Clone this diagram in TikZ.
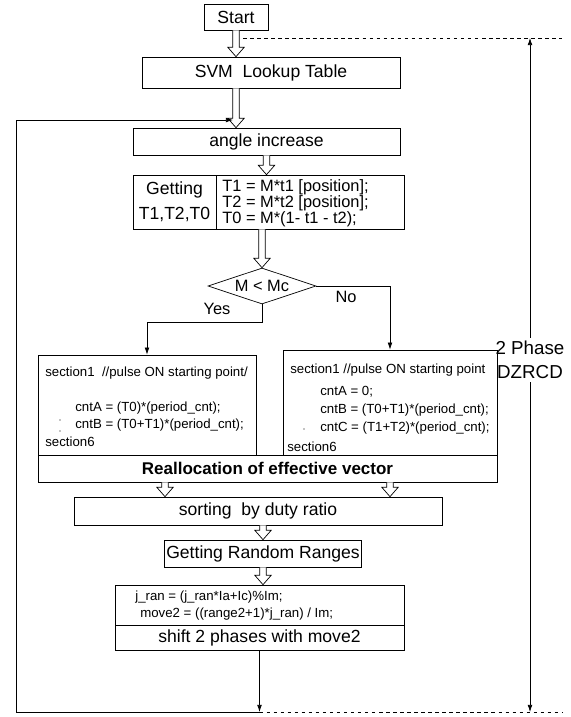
\documentclass[tikz,border=0pt]{standalone}
\usepackage{fontspec}
\setmainfont{Liberation Sans}
\usetikzlibrary{calc,shapes.geometric,arrows.meta}

\newcommand{\pxu}{0.03cm}
% hollow block arrow, x taken from the first point
\newcommand{\harrow}[2]{%
  \draw[fill=white] let \p1=(#1), \p2=(#2) in
    (\x1-2.8pt,\y1) -- (\x1-2.8pt,\y2+8pt) -- (\x1-7pt,\y2+8pt) -- (\x1,\y2)
    -- (\x1+7pt,\y2+8pt) -- (\x1+2.8pt,\y2+8pt) -- (\x1+2.8pt,\y1);}

\begin{document}
\begin{tikzpicture}[x=\pxu,y=-\pxu,line width=0.6pt,
  box/.style={draw,rectangle,inner sep=1pt,font=\fontsize{15}{18}\selectfont},
  code/.style={anchor=west,inner sep=0pt,font=\fontsize{11.3}{13}\selectfont},
  tip/.style={-{Latex[length=6pt,width=4pt]}}]
\useasboundingbox (0,0) rectangle (571,717);

\node[box,minimum width=64*\pxu,minimum height=26*\pxu] (start) at (236,17) {Start};
\node[box,minimum width=258*\pxu,minimum height=31*\pxu] (svm) at (271,72.5) {SVM\ \ Lookup Table};
\node[box,minimum width=267*\pxu,minimum height=27*\pxu] (angle) at (266.5,141.5) {angle increase};
\node[box,minimum width=83*\pxu,minimum height=54*\pxu,align=center,font=\fontsize{15}{21}\selectfont] (gettL) at (174.5,202) {Getting\\T1,T2,T0};
\node[box,minimum width=188*\pxu,minimum height=54*\pxu] (gettR) at (310,202) {};
\node[anchor=west,align=left,inner sep=0pt,font=\fontsize{14}{13.6}\selectfont] (gtxt) at (222,203)
  {T1 = M*t1 [position];\\T2 = M*t2 [position];\\T0 = M*(1- t1 - t2);};

\node[draw,diamond,shape aspect=3,inner sep=0pt,minimum width=108*\pxu,minimum height=36*\pxu,
  font=\fontsize{14}{16}\selectfont] (cond) at (262,286) {M < Mc};
\node[font=\fontsize{14}{16}\selectfont] (yes) at (217,309) {Yes};
\node[font=\fontsize{14}{16}\selectfont] (no) at (346,297) {No};

\node[box,minimum width=218*\pxu,minimum height=100*\pxu] (yesbox) at (147,405) {};
\node[box,minimum width=214*\pxu,minimum height=105*\pxu] (nobox) at (390,402.5) {};
\node[box,minimum width=459*\pxu,minimum height=27*\pxu,font=\fontsize{14.5}{17}\bfseries] (realloc) at (267.5,468.5) {Reallocation of effective vector};

% yes branch
\node[code] (ys1) at (45,373) {section1\ \ //pulse ON starting point/};
\node[code] (ya) at (75,408) {cntA = (T0)*(period\_cnt);};
\node[code] (yb) at (75,425) {cntB = (T0+T1)*(period\_cnt);};
\node[code] (ys6) at (45,442) {section6};
\fill (60,420) circle (0.6pt);
\fill (60,431) circle (0.5pt);

% no branch
\node[code] (ns1) at (290,370) {section1 //pulse ON starting point};
\node[code] (na) at (320,392) {cntA = 0;};
\node[code] (nb) at (320,410) {cntB = (T0+T1)*(period\_cnt);};
\node[code] (nc) at (320,428) {cntC = (T1+T2)*(period\_cnt);};
\node[code] (ns6) at (287,447) {section6};
\fill (304,429) circle (0.6pt);

\node[box,minimum width=368*\pxu,minimum height=28*\pxu] (sorting) at (258,511) {sorting\ \ by duty ratio};
\node[box,minimum width=197*\pxu,minimum height=27*\pxu] (random) at (263,553.5) {Getting Random Ranges};
\node[box,minimum width=289*\pxu,minimum height=40*\pxu] (ranbox) at (259.5,605) {};
\node[code] (ra) at (135,597) {j\_ran = (j\_ran*Ia+Ic)\%Im;};
\node[code] (rb) at (140,614) {move2 = ((range2+1)*j\_ran) / Im;};
\node[box,minimum width=289*\pxu,minimum height=25*\pxu] (shift) at (259.5,637.5) {shift 2 phases with move2};

\node[align=center,inner sep=3pt,font=\fontsize{16}{20}\selectfont] (dz) at (530,360) {2 Phase\\DZRCD};

\coordinate (dtop0) at (243,38);
\coordinate (dtop1) at (562,38);
\coordinate (lb) at (16,712);
\coordinate (lt) at (16,120);
\coordinate (loopend) at (233,120);
\coordinate (dend) at (562,712);
\coordinate (rl) at (165,490);
\coordinate (rr) at (390,490);

% hollow arrows
\harrow{start.south}{svm.north}
\harrow{svm.south -| start}{angle.north}
\harrow{angle.south}{gettR.north}
\harrow{gettL.south -| cond}{cond.north}
\harrow{realloc.south -| rl}{sorting.north}
\harrow{realloc.south -| rr}{sorting.north}
\harrow{sorting.south -| random}{random.north}
\harrow{random.south}{ranbox.north}

% branches
\draw[tip] (cond.south) -- ++(0,18) -| (yesbox.north);
\draw[tip] (cond.east) -| (nobox.north);

% loop back
\draw[tip] (shift.south) -- (shift.south |- lb);
\draw[tip] (shift.south |- lb) -- (lb) -- (lt) -- (loopend);
\draw[dashed] (shift.south |- lb) -- (dend);
\draw[dashed] (dtop0) -- (dtop1);
\draw[tip] (dz.north) -- (dz.north |- dtop1);
\draw[tip] (dz.south) -- (dz.south |- dend);
\end{tikzpicture}
\end{document}
